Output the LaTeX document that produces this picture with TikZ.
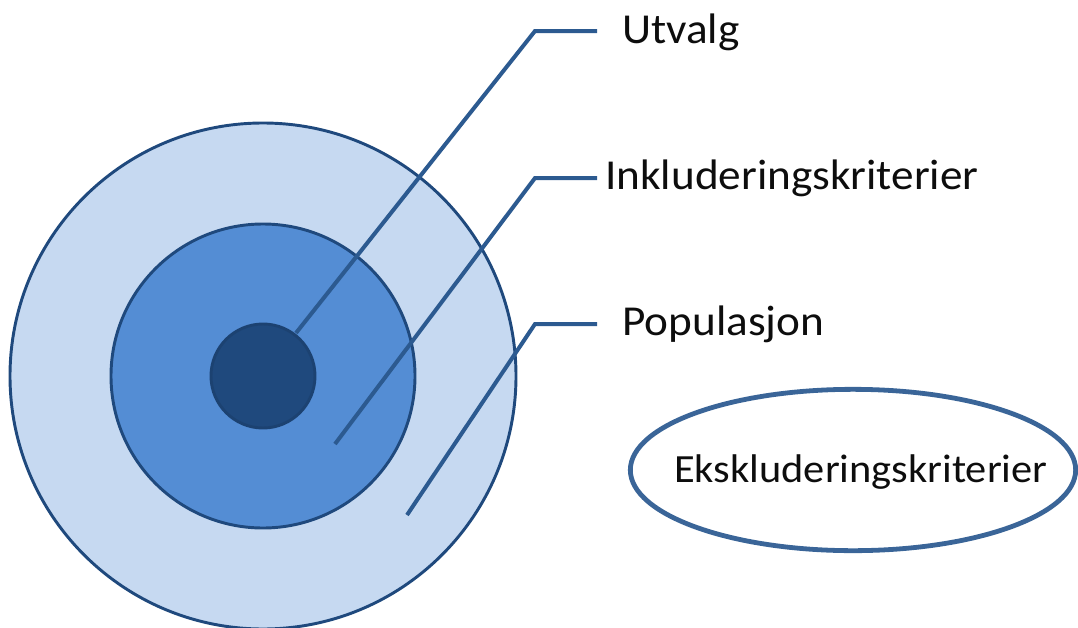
\documentclass[tikz,border=0pt]{standalone}
\usepackage{fontspec}
\setmainfont{Carlito}[FakeStretch=1.06]
\usetikzlibrary{shapes.geometric}
\definecolor{ringlight}{HTML}{C6D9F1}
\definecolor{ringmid}{HTML}{548DD4}
\definecolor{ringcore}{HTML}{1F497D}
\definecolor{ringedge}{HTML}{1F497D}
\definecolor{leader}{HTML}{2C5A90}
\definecolor{ovaledge}{HTML}{3A6598}
\definecolor{labeltext}{HTML}{0D0D0D}
\tikzset{
  ring/.style={circle, draw=ringedge, line width=2.2pt, inner sep=0pt},
  leaderline/.style={draw=leader, line width=3pt},
  lbl/.style={anchor=base west, inner sep=0pt, text=labeltext, font=\fontsize{32}{38}\selectfont},
  ovallbl/.style={lbl, font=\fontsize{30}{36}\selectfont},
  oval/.style={ellipse, draw=ovaledge, line width=3.6pt, inner sep=0pt,
    minimum width=334pt, minimum height=121pt}
}
\begin{document}
\begin{tikzpicture}[x=0.75pt, y=-0.75pt]
  \useasboundingbox (0,0) rectangle (1078,628);
  % nested circles
  \node[ring, fill=ringlight, minimum size=379.5pt] (pop) at (263,376) {};
  \node[ring, fill=ringmid, minimum size=228pt] (inkl) at (263,376) {};
  \node[ring, fill=ringcore, draw=ringcore!90!black, minimum size=78pt] (utv) at (263,376) {};
  % callout anchors
  \coordinate (uA) at (296,333);
  \coordinate (uB) at (535,31);
  \coordinate (uC) at (597,31);
  \coordinate (iA) at (335,444);
  \coordinate (iB) at (535,178);
  \coordinate (iC) at (597,178);
  \coordinate (pA) at (407,515);
  \coordinate (pB) at (535,324);
  \coordinate (pC) at (597,324);
  % labels
  \node[lbl] (tU) at (622,43) {Utvalg};
  \node[lbl] (tI) at (605,189) {Inkluderingskriterier};
  \node[lbl] (tP) at (622,335) {Populasjon};
  % leader lines
  \draw[leaderline] (uA) -- (uB) -- (uC);
  \draw[leaderline] (iA) -- (iB) -- (iC);
  \draw[leaderline] (pA) -- (pB) -- (pC);
  % exclusion oval and its text
  \node[oval] (eks) at (853,470) {};
  \node[ovallbl] (tE) at (674,482) {Ekskluderingskriterier};
\end{tikzpicture}
\end{document}
